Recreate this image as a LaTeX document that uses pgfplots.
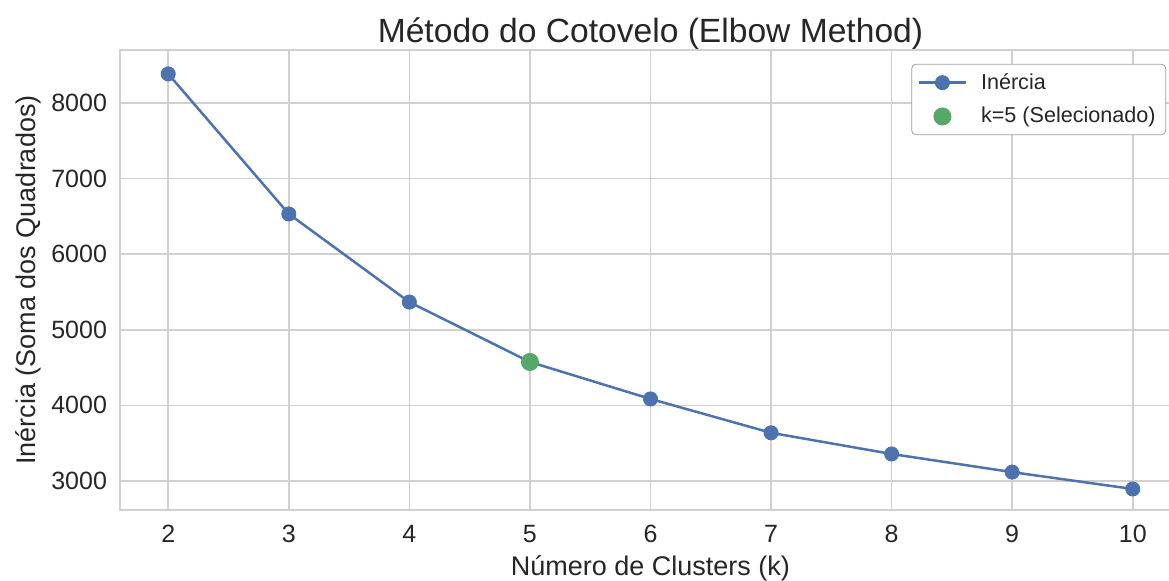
\documentclass[border=0pt]{standalone}
\usepackage{fontspec}
\setmainfont{Liberation Sans}
\usepackage{pgfplots}
\pgfplotsset{compat=1.18}
\definecolor{sbblue}{HTML}{4C72B0}
\definecolor{sbgreen}{HTML}{55A868}
\definecolor{gridc}{HTML}{D0D0D0}
\definecolor{txt}{HTML}{262626}
\begin{document}
\begin{tikzpicture}
\begin{axis}[
  at={(0pt,0pt)}, anchor=south west,
  scale only axis, width=530.5pt, height=230pt,
  xmin=1.6, xmax=10.4, ymin=2616, ymax=8700,
  xtick={2,3,...,10}, ytick={3000,4000,...,8000},
  grid=major, major grid style={gridc, line width=0.8pt},
  axis line style={gridc, line width=0.9pt},
  tick style={draw=none},
  /pgf/number format/assume math mode=true,
  /pgf/number format/1000 sep={},
  ticklabel style={font=\fontsize{12.5}{15}\selectfont, text=txt},
  xticklabel style={yshift=-4pt},
  yticklabel style={xshift=-3pt},
  xlabel={Número de Clusters (k)},
  ylabel={Inércia (Soma dos Quadrados)},
  label style={font=\fontsize{13.5}{16}\selectfont, text=txt},
  xlabel style={at={(0.5,0)}, anchor=center, yshift=-29pt},
  ylabel style={at={(-0.0867,0.5)}, anchor=center},
  title={Método do Cotovelo (Elbow Method)},
  title style={font=\fontsize{16.8}{20}\selectfont, text=txt, at={(0.5,1)}, anchor=center, yshift=2pt},
  legend style={at={(0.986,0.97)}, anchor=north east, font=\fontsize{10.8}{13}\selectfont, text=txt,
    draw=gray!75, rounded corners=2pt, fill=white,
    inner xsep=3pt, inner ysep=2.5pt, row sep=3.5pt,
    /tikz/every odd column/.append style={column sep=5pt}},
  legend cell align=left,
  legend image code/.code={
    \draw[mark repeat=2, mark phase=2] plot coordinates {(0cm,0cm) (0.41cm,0cm) (0.82cm,0cm)};
  },
]
\addplot[sbblue, line width=1.25pt, mark=*, mark size=3.5pt, mark options={draw=sbblue, fill=sbblue, line width=0.5pt}]
  coordinates {(2,8384) (3,6532) (4,5366) (5,4574) (6,4085) (7,3637) (8,3357) (9,3117) (10,2894)};
\addlegendentry{Inércia}
\addplot[only marks, mark=*, mark size=4.25pt, color=sbgreen, mark options={draw=sbgreen, fill=sbgreen, line width=0.5pt}]
  coordinates {(5,4574)};
\addlegendentry{k=5 (Selecionado)}
\end{axis}
\pgfresetboundingbox
\useasboundingbox (-60pt,-35pt) rectangle (524.5pt,255pt);
\end{tikzpicture}
\end{document}
